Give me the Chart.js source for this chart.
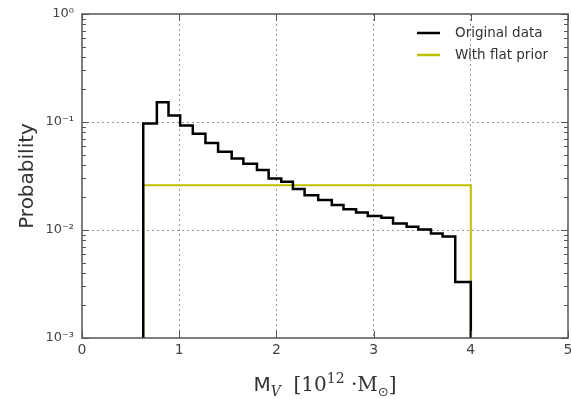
<!DOCTYPE html>
<html>
<head>
<meta charset="utf-8">
<script src="https://cdn.jsdelivr.net/npm/chart.js@4/dist/chart.umd.min.js"></script>
<style>
  html, body { margin: 0; padding: 0; background: #fff; }
  #wrap { width: 571px; height: 399px; }
</style>
</head>
<body>
<div id="wrap"><canvas id="chart"></canvas></div>
<script>
// histogram bin edges (M_V in 1e12 Msun) and probabilities
const binEdges = [0.63, 0.77, 0.89, 1.01, 1.14, 1.27, 1.40, 1.54, 1.66, 1.80, 1.92, 2.05, 2.17, 2.29,
  2.43, 2.57, 2.69, 2.82, 2.94, 3.08, 3.20, 3.34, 3.46, 3.59, 3.71, 3.84, 4.00];
const originalData = [0.097, 0.152, 0.115, 0.093, 0.078, 0.064, 0.053, 0.046, 0.041, 0.036, 0.030,
  0.028, 0.024, 0.021, 0.019, 0.017, 0.0156, 0.0145, 0.0135, 0.013, 0.0115, 0.0107, 0.0101, 0.0093,
  0.0087, 0.0033];
const flatEdges = [0.63, 4.00];
const flatData = [0.026];

const xTicks = [0, 1, 2, 3, 4, 5];
const yTicks = [0.001, 0.01, 0.1, 1];
const yTickLabels = ["10\u207B\u00B3", "10\u207B\u00B2", "10\u207B\u00B9", "10\u2070"];
const seriesNames = ["Original data", "With flat prior"];
const seriesColors = ["#000000", "#bfbf00"];

const Y_MIN = 0.001, Y_MAX = 1;

// turn edges + heights into points for a step outline that drops to the floor
function stepPoints(edges, values) {
  const pts = [{ x: edges[0], y: Y_MIN }];
  values.forEach((v, i) => pts.push({ x: edges[i], y: v }));
  pts.push({ x: edges[edges.length - 1], y: values[values.length - 1] });
  pts.push({ x: edges[edges.length - 1], y: Y_MIN });
  return pts;
}

const FONT = "'DejaVu Sans', sans-serif";
const SERIF = "'DejaVu Serif', serif";

const framePlugin = {
  id: "frame",
  afterDraw(chart) {
    const { ctx, chartArea: a, scales: { x, y } } = chart;
    ctx.save();
    const seg = (x1, y1, x2, y2) => { ctx.beginPath(); ctx.moveTo(x1, y1); ctx.lineTo(x2, y2); ctx.stroke(); };

    // inward tick marks on all four sides
    ctx.strokeStyle = "#555";
    ctx.lineWidth = 1;
    xTicks.forEach(v => {
      const px = Math.round(x.getPixelForValue(v)) + 0.5;
      seg(px, a.bottom, px, a.bottom - 7);
      seg(px, a.top, px, a.top + 7);
    });
    yTicks.forEach(v => {
      const py = Math.round(y.getPixelForValue(v)) + 0.5;
      seg(a.left, py, a.left + 7, py);
      seg(a.right, py, a.right - 7, py);
    });
    yTicks.slice(0, -1).forEach(base => {
      for (let m = 2; m <= 9; m++) {
        const py = Math.round(y.getPixelForValue(base * m)) + 0.5;
        seg(a.left, py, a.left + 4, py);
        seg(a.right, py, a.right - 4, py);
      }
    });

    // axes box
    ctx.lineWidth = 1.5;
    ctx.strokeStyle = "#555";
    ctx.strokeRect(a.left, a.top, a.right - a.left, a.bottom - a.top);

    // legend (no frame), upper right
    ctx.font = "13.5px " + FONT;
    ctx.textBaseline = "middle";
    ctx.textAlign = "left";
    seriesNames.forEach((name, i) => {
      const ly = 33 + i * 22;
      ctx.strokeStyle = seriesColors[i];
      ctx.lineWidth = 2.5;
      seg(417, ly, 440, ly);
      ctx.fillStyle = "#333";
      ctx.fillText(name, 455, ly);
    });

    // y axis title
    ctx.save();
    ctx.translate(28, (a.top + a.bottom) / 2);
    ctx.rotate(-Math.PI / 2);
    ctx.font = "20px " + FONT;
    ctx.fillStyle = "#333";
    ctx.textAlign = "center";
    ctx.textBaseline = "middle";
    ctx.fillText("Probability", 0, 0);
    ctx.restore();

    // x axis title: M_V  [10^12 ·M_sun]
    const parts = [
      { t: "M", f: "20px " + FONT, dy: 0 },
      { t: "V", f: "italic 14px " + SERIF, dy: 5 },
      { t: "  [10", f: "20px " + SERIF, dy: 0 },
      { t: "12", f: "14px " + SERIF, dy: -8 },
      { t: " \u00B7M", f: "20px " + SERIF, dy: 0 },
      { t: "\u2299", f: "13px " + FONT, dy: 5 },
      { t: "]", f: "20px " + SERIF, dy: 0 }
    ];
    let total = 0;
    parts.forEach(p => { ctx.font = p.f; p.w = ctx.measureText(p.t).width; total += p.w; });
    let cx = (a.left + a.right) / 2 - total / 2;
    const base = 391;
    ctx.fillStyle = "#333";
    ctx.textBaseline = "alphabetic";
    ctx.textAlign = "left";
    parts.forEach(p => { ctx.font = p.f; ctx.fillText(p.t, cx, base + p.dy); cx += p.w; });

    ctx.restore();
  }
};

new Chart(document.getElementById("chart"), {
  type: "line",
  data: {
    datasets: [
      {
        label: seriesNames[0],
        data: stepPoints(binEdges, originalData),
        borderColor: seriesColors[0],
        borderWidth: 2.5,
        stepped: "before",
        pointRadius: 0,
        fill: false,
        order: 0
      },
      {
        label: seriesNames[1],
        data: stepPoints(flatEdges, flatData),
        borderColor: seriesColors[1],
        borderWidth: 2,
        stepped: "before",
        pointRadius: 0,
        fill: false,
        order: 1
      }
    ]
  },
  options: {
    responsive: true,
    maintainAspectRatio: false,
    animation: false,
    events: [],
    layout: { padding: { top: 14, right: 3, left: 0, bottom: 0 } },
    plugins: { legend: { display: false }, tooltip: { enabled: false } },
    scales: {
      x: {
        type: "linear",
        min: 0,
        max: 5,
        afterBuildTicks: s => { s.ticks = xTicks.map(v => ({ value: v })); },
        afterFit: s => { s.height = 61; s.paddingLeft = 0; s.paddingRight = 0; },
        ticks: { color: "#444", font: { family: FONT, size: 14 }, padding: 4, maxRotation: 0 },
        grid: {
          drawTicks: false,
          color: c => (c.tick && c.tick.value > 0 && c.tick.value < 5) ? "#999" : "rgba(0,0,0,0)",
          lineWidth: 1
        },
        border: { display: false, dash: [2, 3] }
      },
      y: {
        type: "logarithmic",
        min: Y_MIN,
        max: Y_MAX,
        afterBuildTicks: s => { s.ticks = yTicks.map(v => ({ value: v, major: true })); },
        afterFit: s => { s.width = 82; s.paddingTop = 0; s.paddingBottom = 0; },
        ticks: {
          color: "#444",
          font: { family: FONT, size: 13 },
          padding: 8,
          callback: v => {
            const i = yTicks.indexOf(v);
            return i >= 0 ? yTickLabels[i] : "";
          }
        },
        grid: {
          drawTicks: false,
          color: c => (c.tick && c.tick.value > Y_MIN && c.tick.value < Y_MAX) ? "#999" : "rgba(0,0,0,0)",
          lineWidth: 1
        },
        border: { display: false, dash: [2, 3] }
      }
    }
  },
  plugins: [framePlugin]
});
</script>
</body>
</html>
